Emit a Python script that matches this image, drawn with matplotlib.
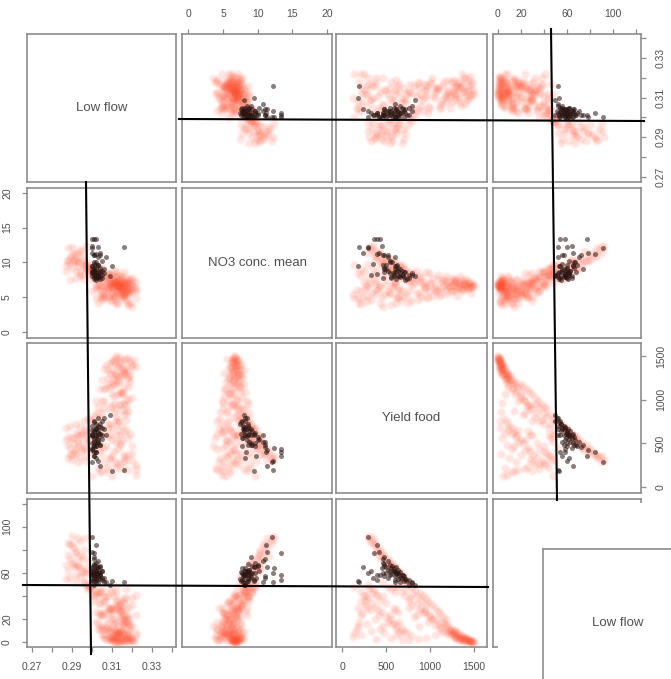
import numpy as np
import matplotlib
matplotlib.use("Agg")
import matplotlib.pyplot as plt
from matplotlib.lines import Line2D
from matplotlib.patches import Rectangle

plt.rcParams["font.family"] = ["Liberation Sans", "DejaVu Sans"]

W, H = 671, 679

# ---------------------------------------------------------------- values
# all simulations (red cloud), same position = same simulation
cloud_low_flow = [
    .312, .316, .309, .320, .313, .306, .318, .311, .315, .308,
    .317, .310, .314, .322, .308, .316, .312, .305, .319, .311,
    .308, .318, .304, .314, .310, .320, .306, .316, .303, .312,
    .306, .313, .318, .302, .310, .315, .305, .312, .300, .308,
    .296, .293, .290, .295, .288, .292, .291, .289, .294, .290,
    .301, .298, .296, .303, .294, .299, .292, .297, .287, .291,
    .305, .312, .308, .316, .303, .310, .314, .306, .311, .318,
    .316, .320, .312, .322, .308, .315, .318, .304, .322, .310,
    .310, .306, .318, .314, .303, .320, .309, .316, .312, .305,
    .302, .309, .315, .304, .307, .313, .300, .310, .317, .306,
    .299, .289, .297, .294, .291, .298, .293, .296, .290, .297,
    .314, .311, .319, .313, .317, .315, .312, .318, .314, .310,
    .316, .315, .317, .314, .318, .316, .313, .315, .317, .314,
    .300, .308, .303, .312, .297, .305, .301, .296, .299, .304,
    .309, .318, .312, .307, .315, .311, .305, .317, .309, .303,
    .292, .287, .295, .288, .293, .289, .295, .292, .288, .293,
    .313, .319, .308, .312, .320, .304, .316, .309, .314, .322,
    .314, .306, .311, .302, .317, .309, .304, .300, .312, .298,
    .321, .307, .316, .319, .313, .309, .315, .311, .317, .313,
    .312, .318, .314, .311, .320, .315, .310, .316, .313, .311,
]
cloud_no3 = [
    6.8, 7.2, 6.5, 6.9, 5.8, 7.5, 6.3, 7.0, 6.0, 7.8,
    5.6, 6.4, 7.6, 6.1, 8.0, 5.2, 7.1, 6.6, 5.4, 7.4,
    6.0, 7.5, 5.2, 8.2, 6.6, 7.8, 5.8, 8.6, 6.9, 8.0,
    5.4, 6.2, 7.0, 4.8, 6.4, 7.2, 5.6, 7.8, 5.9, 8.4,
    9.5, 10.0, 9.2, 10.6, 10.2, 11.0, 11.4, 10.8, 11.8, 12.2,
    8.0, 8.6, 7.6, 9.0, 8.2, 9.4, 7.8, 9.8, 8.8, 10.4,
    4.6, 5.4, 6.0, 4.8, 6.6, 5.6, 6.8, 5.0, 6.2, 7.0,
    5.6, 6.4, 4.4, 7.2, 5.0, 8.0, 4.2, 6.0, 4.8, 5.4,
    4.4, 5.0, 3.8, 5.4, 4.2, 6.0, 4.6, 5.2, 4.0, 4.8,
    6.2, 7.0, 5.4, 7.6, 8.0, 6.6, 7.4, 8.2, 7.8, 6.8,
    8.4, 7.4, 9.0, 8.6, 10.2, 9.0, 10.0, 10.4, 11.0, 12.4,
    6.6, 7.0, 6.2, 6.7, 6.9, 6.4, 7.2, 5.8, 6.5, 7.0,
    6.6, 5.8, 6.9, 7.2, 5.6, 7.0, 7.4, 5.0, 6.0, 7.1,
    9.6, 8.4, 9.0, 8.8, 9.8, 9.2, 8.6, 9.4, 8.8, 8.2,
    7.4, 5.9, 8.0, 6.3, 7.6, 5.2, 8.4, 6.1, 5.0, 7.4,
    8.8, 9.6, 8.2, 10.4, 9.4, 9.8, 11.6, 10.4, 12.0, 11.4,
    5.2, 4.2, 6.4, 5.8, 3.6, 6.6, 5.4, 7.0, 6.2, 5.8,
    6.4, 7.8, 8.8, 6.6, 7.2, 8.2, 9.2, 8.0, 7.0, 9.0,
    6.4, 7.0, 6.8, 7.6, 6.6, 7.2, 5.8, 5.0, 4.6, 4.2,
    6.8, 6.5, 7.0, 6.6, 7.3, 6.2, 7.1, 6.5, 6.8, 7.3,
]
cloud_yield = [
    1480, 1450, 1420, 1400, 1380, 1350, 1330, 1300, 1280, 1250,
    1470, 1440, 1410, 1370, 1340, 1310, 1270, 1230, 1200, 1170,
    1180, 1150, 1120, 1090, 1060, 1020, 990, 950, 920, 890,
    1120, 1060, 1010, 980, 930, 880, 850, 800, 760, 720,
    640, 600, 560, 520, 480, 440, 400, 370, 340, 310,
    830, 790, 750, 720, 690, 660, 620, 590, 540, 500,
    780, 730, 680, 630, 590, 540, 500, 450, 410, 370,
    340, 300, 280, 250, 230, 210, 190, 170, 140, 120,
    680, 620, 560, 480, 430, 380, 330, 280, 220, 180,
    640, 590, 540, 500, 470, 430, 390, 350, 310, 270,
    760, 700, 660, 600, 560, 520, 470, 430, 380, 350,
    1490, 1460, 1430, 1390, 1360, 1320, 1290, 1260, 1220, 1190,
    1150, 1080, 1000, 940, 870, 820, 760, 700, 650, 600,
    130, 180, 220, 260, 300, 350, 400, 450, 520, 600,
    1290, 1240, 1180, 1130, 1090, 1040, 990, 940, 900, 850,
    720, 680, 610, 570, 510, 450, 420, 380, 330, 290,
    650, 610, 570, 520, 470, 420, 370, 320, 260, 210,
    950, 900, 850, 800, 770, 720, 680, 640, 600, 560,
    1460, 1400, 1340, 1280, 1210, 1140, 1060, 960, 860, 760,
    1500, 1475, 1445, 1415, 1390, 1365, 1335, 1300, 1265, 1230,
]
cloud_fish = [
    0, 1, 3, 2, 5, 4, 7, 6, 10, 9,
    1, 2, 4, 6, 3, 8, 11, 12, 15, 16,
    20, 22, 25, 27, 30, 32, 35, 38, 40, 43,
    12, 15, 20, 18, 25, 28, 24, 32, 36, 40,
    62, 66, 69, 72, 76, 78, 82, 85, 88, 92,
    45, 48, 52, 55, 57, 60, 58, 64, 67, 65,
    6, 8, 12, 14, 17, 20, 22, 26, 28, 31,
    34, 38, 30, 41, 25, 36, 18, 12, 8, 5,
    2, 6, 4, 8, 12, 3, 10, 16, 6, 14,
    26, 30, 24, 34, 40, 36, 42, 44, 46, 40,
    50, 56, 60, 64, 68, 70, 74, 80, 84, 90,
    0, 0, 2, 1, 4, 3, 5, 8, 10, 13,
    18, 20, 23, 26, 14, 22, 30, 10, 18, 28,
    48, 30, 44, 36, 50, 46, 40, 52, 48, 44,
    4, 6, 9, 13, 16, 20, 24, 28, 30, 34,
    52, 55, 60, 62, 66, 72, 75, 78, 86, 90,
    9, 12, 16, 18, 14, 24, 20, 28, 32, 24,
    33, 36, 40, 42, 38, 46, 44, 50, 48, 46,
    1, 3, 2, 5, 7, 9, 6, 4, 3, 2,
    0, 1, 1, 3, 2, 3, 5, 7, 8, 11,
]

# selected simulations (dark points)
best_low_flow = [
    .309, .306, .305, .304, .303, .302, .301, .302, .301, .300,
    .303, .301, .302, .306, .300, .304, .300, .305, .303, .301,
    .316, .310, .304, .303, .302, .301, .302, .300, .301, .300,
    .302, .301, .303, .302, .300, .304, .302, .301, .301, .305,
    .300, .301, .307,
    .300, .303, .302, .304, .301, .303, .300, .302, .303, .301,
    .301, .300, .305, .303, .300, .304, .302, .304, .302, .302,
]
best_no3 = [
    8.0, 8.4, 7.8, 8.6, 7.9, 8.2, 9.2, 8.4, 8.8, 9.4,
    8.2, 7.6, 7.4, 9.0, 8.0, 8.8, 8.6, 8.2, 7.7, 10.0,
    12.2, 9.4, 11.4, 12.2, 13.3, 9.8, 8.2, 13.4, 13.3, 12.0,
    11.2, 11.0, 10.8, 10.0, 12.3, 11.0, 7.8, 8.3, 11.0, 10.2,
    11.4, 9.0, 10.8,
    8.6, 8.0, 9.0, 8.0, 7.9, 9.6, 8.4, 8.8, 9.6, 8.6,
    8.2, 9.4, 8.8, 8.4, 9.0, 7.6, 8.1, 9.2, 9.6, 7.9,
]
best_yield = [
    830, 790, 760, 720, 700, 680, 640, 660, 640, 610,
    790, 740, 720, 660, 650, 610, 600, 590, 560, 540,
    190, 180, 240, 300, 400, 350, 330, 430, 360, 290,
    400, 460, 520, 570, 450, 480, 470, 400, 520, 550,
    420, 480, 600,
    700, 640, 600, 690, 560, 620, 580, 520, 500, 480,
    760, 600, 680, 540, 500, 610, 590, 480, 470, 660,
]
best_fish = [
    50, 52, 54, 55, 57, 58, 60, 61, 63, 65,
    51, 53, 55, 56, 58, 59, 61, 62, 64, 67,
    52, 53, 65, 60, 54, 56, 62, 58, 77, 91,
    84, 72, 70, 66, 64, 57, 60, 58, 56, 62,
    78, 74, 52,
    53, 55, 57, 58, 59, 60, 62, 63, 65, 68,
    50, 54, 56, 58, 60, 61, 64, 66, 69, 52,
]

variables = ["Low flow", "NO3 conc. mean", "Yield food", ""]
cloud = [cloud_low_flow, cloud_no3, cloud_yield, cloud_fish]
best = [best_low_flow, best_no3, best_yield, best_fish]

# axis limits and ticks per variable
limits = [(0.2675, 0.342), (-0.9, 20.7), (-70, 1650), (-4, 124)]
ticks = [
    [0.27, 0.28, 0.29, 0.30, 0.31, 0.32, 0.33, 0.34],
    [0, 5, 10, 15, 20],
    [0, 500, 1000, 1500],
    [0, 20, 40, 60, 80, 100, 120],
]
tick_labels = [
    ["0.27", "", "0.29", "", "0.31", "", "0.33", ""],
    ["0", "5", "10", "15", "20"],
    ["0", "500", "1000", "1500"],
    ["0", "20", "", "60", "", "100", ""],
]

# panel edges in pixels
col_edges = [(27, 176), (182, 332), (336, 487), (493, 641)]
row_edges = [(34, 182), (188, 338), (343, 493), (499, 647)]

# hand-drawn black lines over the figure, pixels
drawn_lines = [
    ((179, 644), (119, 121)),
    ((551, 557), (29, 500)),
    ((86, 91), (182, 654)),
    ((23, 488), (585, 587)),
]

GREY = "#8c8c8c"
TEXT = "#505050"


def panel_axes(x0, x1, y0, y1, zorder=1):
    ax = fig.add_axes([x0 / W, 1 - y1 / H, (x1 - x0) / W, (y1 - y0) / H], zorder=zorder)
    ax.set_xticks([])
    ax.set_yticks([])
    for s in ax.spines.values():
        s.set_color(GREY)
        s.set_linewidth(1.2)
    return ax


fig = plt.figure(figsize=(W / 100, H / 100), dpi=100)
tick_style = dict(length=3.8, width=0.9, color=GREY, labelcolor=TEXT, labelsize=7.5, pad=7)

for r in range(4):
    for c in range(4):
        ax = panel_axes(*col_edges[c], *row_edges[r])
        ax.set_xlim(limits[c])
        ax.set_ylim(limits[r])
        if r == c:
            ax.text(0.5, 0.5, variables[r], transform=ax.transAxes, ha="center",
                    va="center", fontsize=9.5, color=TEXT)
        else:
            # two layers give the soft blurred look of the cloud
            ax.scatter(cloud[c], cloud[r], s=55, color="#ff5a3c", alpha=0.05, linewidths=0)
            ax.scatter(cloud[c], cloud[r], s=24, color="#ff4a28", alpha=0.10, linewidths=0)
            ax.scatter(best[c], best[r], s=13, color="#2a1512", alpha=0.55, linewidths=0)
        # axis labels alternate around the matrix, as pairs() does
        if r == 0 and c in (1, 3):
            ax.xaxis.tick_top()
            ax.set_xticks(ticks[c], tick_labels[c])
            ax.tick_params(axis="x", **tick_style)
        if r == 3 and c in (0, 2):
            ax.set_xticks(ticks[c], tick_labels[c])
            ax.tick_params(axis="x", **tick_style)
        if c == 0 and r in (1, 3):
            ax.set_yticks(ticks[r], tick_labels[r], rotation=90, va="center")
            ax.tick_params(axis="y", **tick_style)
        if c == 3 and r in (0, 2):
            ax.yaxis.tick_right()
            ax.set_yticks(ticks[r], tick_labels[r], rotation=90, va="center")
            ax.tick_params(axis="y", **tick_style)

# pasted-over corner: white patch and a second copy of the first label panel
fig.add_artist(Rectangle((498 / W, 0), (W - 498) / W, 1 - 503 / H, transform=fig.transFigure,
                         facecolor="white", edgecolor="none", zorder=5))
inset = panel_axes(543, 692, 549, 698, zorder=6)
inset.text(0.5, 0.5, variables[0], transform=inset.transAxes, ha="center", va="center",
           fontsize=9.5, color=TEXT)

for xs, ys in drawn_lines:
    fig.add_artist(Line2D([xs[0] / W, xs[1] / W], [1 - ys[0] / H, 1 - ys[1] / H],
                          transform=fig.transFigure, color="black", lw=1.5, zorder=8))

fig.savefig("out.png", dpi=100)
